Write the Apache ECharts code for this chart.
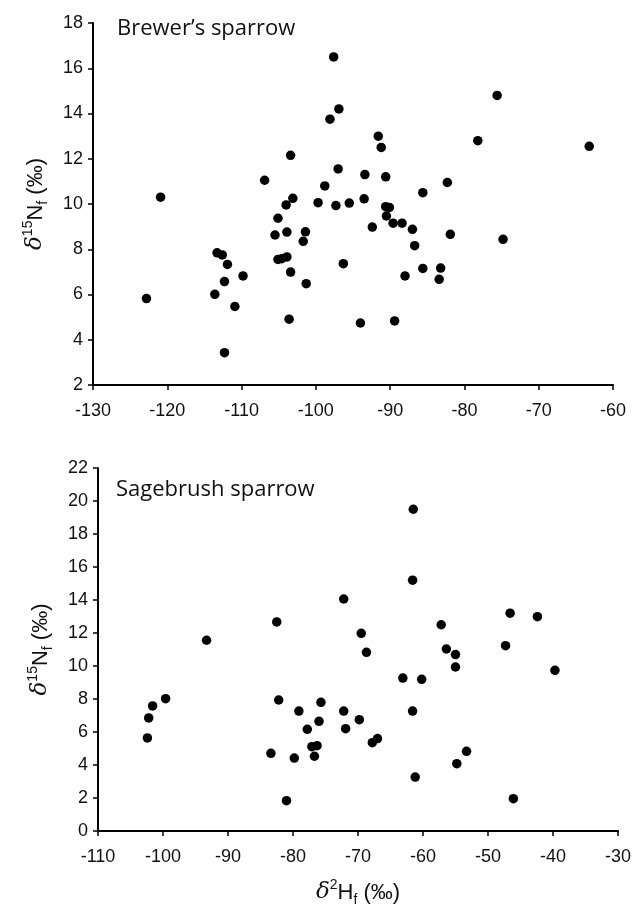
<!DOCTYPE html>
<html>
<head>
<meta charset="utf-8">
<script src="https://cdn.jsdelivr.net/npm/echarts@6/dist/echarts.min.js"></script>
<style>
  html, body { margin: 0; padding: 0; background: #fff; }
  #chart { width: 633px; height: 908px; }
</style>
</head>
<body>
<div id="chart"></div>
<script>
// Brewer's sparrow (top panel)
var brewerD2H = [-97.6, -75.6, -96.9, -98.1, -91.6, -91.2, -78.2, -63.2, -103.4, -97.0,
  -93.4, -90.6, -106.9, -98.8, -82.3, -85.6, -120.9, -104.0, -103.1, -99.7,
  -97.3, -95.5, -93.5, -90.6, -90.1, -90.5, -89.6, -88.4, -92.4, -87.0,
  -86.7, -81.9, -74.8, -105.1, -105.5, -103.9, -101.4, -101.7, -113.3, -112.6,
  -111.9, -112.3, -109.8, -113.6, -110.9, -122.8, -112.3, -105.1, -104.6, -103.9,
  -103.4, -101.3, -96.3, -103.6, -94.0, -89.4, -85.6, -88.0, -83.2, -83.4];
var brewerD15N = [16.5, 14.8, 14.2, 13.75, 13.0, 12.5, 12.8, 12.55, 12.15, 11.55,
  11.3, 11.2, 11.05, 10.8, 10.95, 10.5, 10.3, 9.96, 10.25, 10.06,
  9.93, 10.04, 10.23, 9.88, 9.85, 9.47, 9.15, 9.15, 8.98, 8.88,
  8.16, 8.66, 8.44, 9.37, 8.63, 8.76, 8.77, 8.35, 7.84, 7.75,
  7.33, 6.57, 6.82, 6.01, 5.47, 5.82, 3.43, 7.55, 7.58, 7.66,
  6.99, 6.48, 7.36, 4.91, 4.74, 4.83, 7.15, 6.82, 7.17, 6.67];

// Sagebrush sparrow (bottom panel)
var sageD2H = [-61.5, -61.6, -72.2, -82.5, -69.5, -57.2, -46.6, -42.4, -93.3, -68.7,
  -56.4, -55.0, -55.0, -47.3, -39.7, -63.1, -60.2, -99.6, -101.6, -102.2,
  -102.4, -82.2, -75.7, -79.1, -72.2, -61.6, -76.0, -69.8, -77.8, -71.9,
  -67.0, -67.8, -77.1, -76.3, -76.7, -83.4, -79.8, -53.3, -54.8, -61.2,
  -81.0, -46.1];
var sageD15N = [19.5, 15.2, 14.06, 12.67, 11.98, 12.5, 13.2, 12.99, 11.56, 10.83,
  11.03, 10.69, 9.94, 11.23, 9.74, 9.27, 9.19, 8.02, 7.58, 6.85,
  5.64, 7.94, 7.8, 7.27, 7.27, 7.27, 6.65, 6.75, 6.16, 6.2,
  5.6, 5.35, 5.11, 5.17, 4.53, 4.71, 4.42, 4.83, 4.08, 3.27,
  1.84, 1.96];

var titles = ['Brewer\u2019s sparrow', 'Sagebrush sparrow'];

function pairs(xs, ys) {
  return xs.map(function (x, i) { return [x, ys[i]]; });
}

var font = 'Liberation Sans';
var ink = '#111';
var lineStyle = { color: '#000', width: 2 };

var nameRich = {
  d: { fontSize: 23, fontStyle: 'italic', fontFamily: 'DejaVu Serif', color: ink, lineHeight: 26, verticalAlign: 'bottom' },
  sup: { fontSize: 14, fontFamily: font, color: ink, lineHeight: 26, verticalAlign: 'top' },
  n: { fontSize: 22, fontFamily: font, color: ink, lineHeight: 26, verticalAlign: 'bottom' },
  sub: { fontSize: 14, fontFamily: font, color: ink, lineHeight: 26, verticalAlign: 'bottom', padding: [0, 0, -3, 0] },
  u: { fontSize: 22, fontFamily: font, color: ink, lineHeight: 26, verticalAlign: 'bottom' }
};

function xAxis(idx, min, max, withName) {
  return {
    type: 'value', gridIndex: idx, min: min, max: max, interval: 10,
    axisLine: { show: true, onZero: false, lineStyle: lineStyle },
    axisTick: { show: true, length: 5, lineStyle: { color: '#000', width: 1.5 } },
    axisLabel: { margin: 17, color: ink, fontSize: 18, fontFamily: font },
    splitLine: { show: false },
    name: withName ? '{d|\u03b4}{sup|2}{n|H}{sub|f}{u| (\u2030)}' : '',
    nameLocation: 'middle', nameGap: 47,
    nameTextStyle: { rich: nameRich }
  };
}

function yAxis(idx, min, max) {
  return {
    type: 'value', gridIndex: idx, min: min, max: max, interval: 2,
    axisLine: { show: true, onZero: false, lineStyle: lineStyle },
    axisTick: { show: true, length: 5, lineStyle: { color: '#000', width: 1.5 } },
    axisLabel: { margin: 10, color: ink, fontSize: 18, fontFamily: font },
    splitLine: { show: false },
    name: '{d|\u03b4}{sup|15}{n|N}{sub|f}{u| (\u2030)}',
    nameLocation: 'middle', nameGap: 46, nameRotate: 90,
    nameTextStyle: { rich: nameRich }
  };
}

var titleStyle = { fontFamily: 'Open Sans', fontWeight: 'normal', fontSize: 22, color: ink };

var chart = echarts.init(document.getElementById('chart'), null, { renderer: 'canvas' });
chart.setOption({
  backgroundColor: '#fff',
  animation: false,
  title: [
    { text: titles[0], left: 112, top: 13, textStyle: titleStyle },
    { text: titles[1], left: 111, top: 474, textStyle: titleStyle }
  ],
  grid: [
    { left: 93, top: 23, width: 520, height: 362, outerBoundsMode: 'none', containLabel: false },
    { left: 98, top: 468, width: 520, height: 363, outerBoundsMode: 'none', containLabel: false }
  ],
  xAxis: [xAxis(0, -130, -60, false), xAxis(1, -110, -30, true)],
  yAxis: [yAxis(0, 2, 18), yAxis(1, 0, 22)],
  series: [
    { type: 'scatter', xAxisIndex: 0, yAxisIndex: 0, symbolSize: 9.5,
      itemStyle: { color: '#000', opacity: 1 }, data: pairs(brewerD2H, brewerD15N) },
    { type: 'scatter', xAxisIndex: 1, yAxisIndex: 1, symbolSize: 9.5,
      itemStyle: { color: '#000', opacity: 1 }, data: pairs(sageD2H, sageD15N) }
  ]
});
</script>
</body>
</html>
